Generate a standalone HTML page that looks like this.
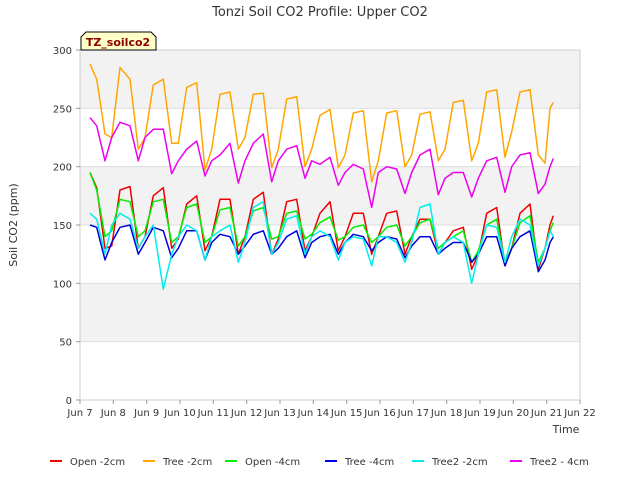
<!DOCTYPE html>
<html><head><meta charset="utf-8"><style>
body{margin:0;background:#fff;font-family:"DejaVu Sans",sans-serif}
svg text{font-family:"DejaVu Sans",sans-serif}
</style></head><body>
<svg id="c" width="640" height="480" xmlns="http://www.w3.org/2000/svg">
<text x="320" y="16" text-anchor="middle" font-size="13" fill="#333">Tonzi Soil CO2 Profile: Upper CO2</text>
<g id="bands"></g><g id="grid"></g>
<rect x="80" y="50" width="500" height="350" fill="none" stroke="#ccc"/>
<g id="ticks"></g><g id="series"></g>
<text transform="translate(17,225) rotate(-90)" text-anchor="middle" font-size="11" fill="#333">Soil CO2 (ppm)</text>
<text x="566" y="433" text-anchor="middle" font-size="11" fill="#333">Time</text>
<g>
<path d="M81,50 L81,37 L86,32 L151,32 L156,37 L156,50 Z" fill="#ffffc8" stroke="#000"/>
<text x="118" y="46" text-anchor="middle" font-size="11" font-weight="bold" fill="#8b0000">TZ_soilco2</text></g>
<g id="legend"></g>
</svg>
<script>
const yTicks=[0,50,100,150,200,250,300];
const xTickLabels=["Jun 7","Jun 8","Jun 9","Jun 10","Jun 11","Jun 12","Jun 13","Jun 14","Jun 15","Jun 16","Jun 17","Jun 18","Jun 19","Jun 20","Jun 21","Jun 22"];
const xTickDays=[7,8,9,10,11,12,13,14,15,16,17,18,19,20,21,22];
const times=[7.3,7.5,7.75,7.95,8.2,8.5,8.75,8.95,9.2,9.5,9.75,9.95,10.2,10.5,10.75,10.95,11.2,11.5,11.75,11.95,12.2,12.5,12.75,12.95,13.2,13.5,13.75,13.95,14.2,14.5,14.75,14.95,15.2,15.5,15.75,15.95,16.2,16.5,16.75,16.95,17.2,17.5,17.75,17.95,18.2,18.5,18.75,18.95,19.2,19.5,19.75,19.95,20.2,20.5,20.75,20.95,21.1,21.2];
const seriesNames=["Open -2cm","Tree -2cm","Open -4cm","Tree -4cm","Tree2 -2cm","Tree2 - 4cm"];
const seriesColors=["#ee0000","#ffa500","#00ee00","#0000dd","#00eeee","#ee00ee"];
const open2=[195,182,130,132,180,183,130,140,175,182,130,138,168,175,128,140,172,172,125,140,172,178,125,138,170,172,128,140,160,170,128,140,160,160,125,140,160,162,125,140,155,155,125,135,145,148,112,125,160,165,115,130,160,168,112,130,150,158];
const tree2=[288,275,228,225,285,275,215,225,270,275,220,220,268,272,197,215,262,264,215,225,262,263,199,215,258,260,200,215,244,249,199,210,246,248,187,205,246,248,200,210,245,247,205,215,255,257,205,220,264,266,208,230,264,266,210,203,250,255];
const open4=[195,180,140,145,172,170,140,145,170,172,135,140,165,168,135,140,163,165,132,140,162,165,138,140,160,162,138,142,152,157,137,140,148,150,135,140,148,150,132,140,152,155,130,135,140,145,118,128,150,155,118,130,152,158,118,130,145,152];
const tree4=[150,148,120,135,148,150,125,135,148,145,122,130,145,145,120,135,142,140,125,132,142,145,125,130,140,145,122,135,140,142,125,135,142,140,128,135,140,138,122,132,140,140,125,130,135,135,118,125,140,140,115,130,140,145,110,120,135,140];
const tree22=[160,155,125,150,160,155,130,140,150,95,125,140,150,145,120,140,145,150,118,135,165,170,125,135,155,158,125,140,145,140,120,135,140,138,115,140,140,135,118,135,165,168,125,135,140,135,100,125,150,148,118,140,155,150,115,130,145,140];
const tree24=[242,235,205,225,238,235,205,225,232,232,194,205,215,222,192,205,210,220,186,205,220,228,187,205,215,218,190,205,202,208,184,195,202,198,165,195,200,198,177,195,210,215,176,190,195,195,174,190,205,208,178,200,210,212,177,185,200,207];
const allSeries=[open2,tree2,open4,tree4,tree22,tree24];
const NS="http://www.w3.org/2000/svg";
const X=d=>80+(d-7)*500/15, Y=v=>400-v*350/300;
function mk(t,a,p){const e=document.createElementNS(NS,t);for(const k in a)e.setAttribute(k,a[k]);p.appendChild(e);return e;}
const bands=document.getElementById('bands'),grid=document.getElementById('grid'),ticks=document.getElementById('ticks'),ser=document.getElementById('series'),leg=document.getElementById('legend');
for(let i=0;i<yTicks.length-1;i++){
 const r=mk('rect',{x:80,y:Y(yTicks[i+1]),width:500,height:Y(yTicks[i])-Y(yTicks[i+1]),fill:i%2?'#f2f2f2':'#ffffff'},bands);
 
 
}
yTicks.forEach(v=>{
 const l=mk('line',{x1:80,x2:580,y1:Y(v),y2:Y(v),stroke:'#ddd'},grid);
 
 
 const tk=mk('line',{x1:76,x2:80,y1:Y(v),y2:Y(v),stroke:'#999'},ticks);
 
 
 const t=mk('text',{x:72,y:Y(v)+4,'text-anchor':'end','font-size':10,fill:'#333'},ticks);t.textContent=v;
 
 
});
xTickDays.forEach((d,i)=>{
 const tk=mk('line',{x1:X(d),x2:X(d),y1:400,y2:404,stroke:'#999'},ticks);
 
 
 const t=mk('text',{x:X(d),y:416,'text-anchor':'middle','font-size':10,fill:'#333'},ticks);t.textContent=xTickLabels[i];
 
 
});
allSeries.forEach((vals,s)=>{
 const pts=vals.map((v,i)=>X(times[i]).toFixed(1)+','+Y(v).toFixed(1)).join(' ');
 const p=mk('polyline',{points:pts,fill:'none',stroke:seriesColors[s],'stroke-width':1.5,'stroke-linejoin':'round'},ser);
 
 
});
const legX=[50,143,225,325,412,510];
seriesNames.forEach((n,s)=>{
 const g=mk('g',{},leg);
 
 
 mk('line',{x1:legX[s],x2:legX[s]+12,y1:461,y2:461,stroke:seriesColors[s],'stroke-width':2},g);
 const t=mk('text',{x:legX[s]+20,y:465,'font-size':10,fill:'#333'},g);t.textContent=n;
});
</script>
</body></html>
